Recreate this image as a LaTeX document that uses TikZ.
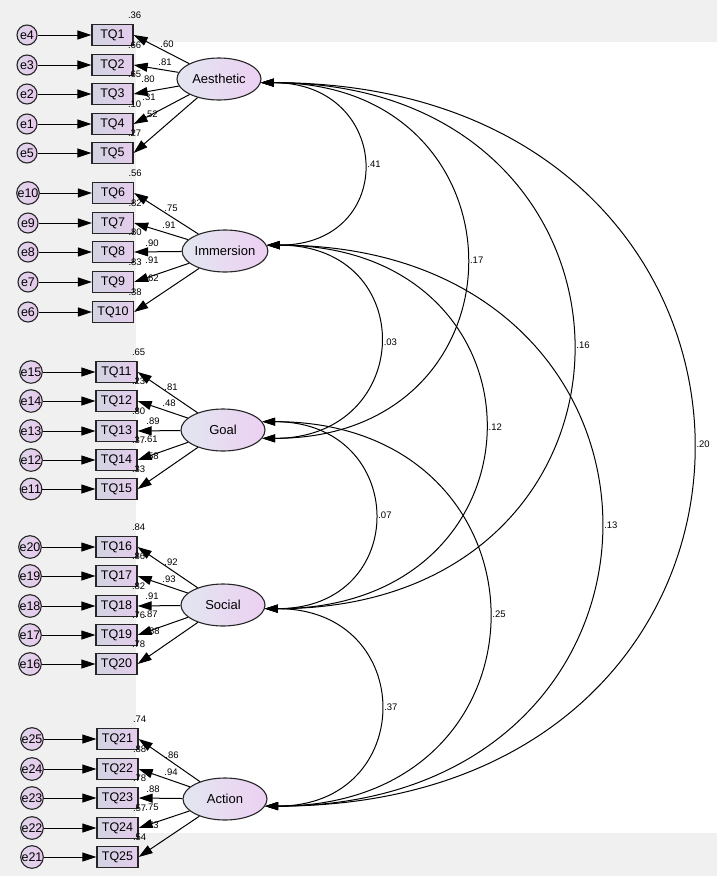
\documentclass[tikz,border=0pt]{standalone}
\usepackage{fontspec}
\setmainfont{Liberation Sans}
\usetikzlibrary{shapes.geometric,arrows.meta,calc}

\definecolor{bggray}{RGB}{240,240,240}
\definecolor{latleft}{RGB}{226,230,240}
\definecolor{latright}{RGB}{236,208,242}
\definecolor{obsleft}{RGB}{210,212,226}
\definecolor{obsright}{RGB}{228,204,236}
\definecolor{errleft}{RGB}{222,214,234}
\definecolor{errright}{RGB}{232,200,236}

\begin{document}
\begin{tikzpicture}[x=1pt, y=-1pt, >={Triangle[length=14pt,width=9pt]},
    latent/.style={ellipse, draw=black!85, line width=1.1pt, left color=latleft, right color=latright,
        minimum width=84pt, minimum height=42pt, inner sep=0pt, font=\fontsize{13}{15}\selectfont},
    obs/.style={rectangle, draw=black!85, line width=1.3pt, left color=obsleft, right color=obsright,
        minimum width=41pt, minimum height=21pt, inner sep=0pt, font=\fontsize{12.5}{14}\selectfont},
    err/.style={circle, draw=black!85, line width=1.1pt, left color=errleft, right color=errright,
        minimum size=20pt, inner sep=0pt, font=\fontsize{12.5}{14}\selectfont},
    coef/.style={inner sep=1pt, font=\fontsize{9.5}{11}\selectfont},
    load/.style={->, line width=1pt},
    cov/.style={<->, line width=1pt, >={Triangle[length=13pt,width=8pt]}}]

    \useasboundingbox (0,0) rectangle (717,876);
    \fill[bggray] (0,0) rectangle (717,876);
    \fill[white] (136,42) rectangle (717,833);

    % Aesthetic
    \node[latent] (aes) at (219,79) {Aesthetic};
    \foreach \r/\e/\q/\rsq/\lam/\lx/\ly in {35/4/1/.36/.60/167/44, 65/3/2/.66/.81/165/62,
        94/2/3/.65/.80/148/79, 124/1/4/.10/.31/149/97, 153/5/5/.27/.52/151/114}{
        \node[err] (e\e) at (27,\r) {e\e};
        \node[obs] (tq\q) at (112.5,\r) {TQ\q};
        \draw[load] (e\e) -- (tq\q);
        \draw[load] (aes) -- (tq\q.east);
        \node[coef] at ($(tq\q.north east)+(1,-9)$) {\rsq};
        \node[coef] at (\lx,\ly) {\lam};
    }

    % Immersion
    \node[latent] (imm) at (225,251) {Immersion};
    \foreach \r/\e/\q/\rsq/\lam/\lx/\ly in {193/10/6/.56/.75/171/208, 223/9/7/.82/.91/169/225,
        252/8/8/.80/.90/152/243, 282/7/9/.83/.91/152/260, 312/6/10/.38/.62/152/278}{
        \node[err] (e\e) at (28,\r) {e\e};
        \node[obs] (tq\q) at (113,\r) {TQ\q};
        \draw[load] (e\e) -- (tq\q);
        \draw[load] (imm) -- (tq\q.east);
        \node[coef] at ($(tq\q.north east)+(1,-9)$) {\rsq};
        \node[coef] at (\lx,\ly) {\lam};
    }

    % Goal
    \node[latent] (goal) at (223,430) {Goal};
    \foreach \r/\e/\q/\rsq/\lam/\lx/\ly in {372/15/11/.65/.81/171/387, 401/14/12/.23/.48/169/403,
        431/13/13/.80/.89/153/421, 460/12/14/.37/.61/151/439, 489/11/15/.33/.58/152/456}{
        \node[err] (e\e) at (31,\r) {e\e};
        \node[obs] (tq\q) at (116.5,\r) {TQ\q};
        \draw[load] (e\e) -- (tq\q);
        \draw[load] (goal) -- (tq\q.east);
        \node[coef] at ($(tq\q.north east)+(1,-9)$) {\rsq};
        \node[coef] at (\lx,\ly) {\lam};
    }

    % Social
    \node[latent] (soc) at (223,605) {Social};
    \foreach \r/\e/\q/\rsq/\lam/\lx/\ly in {547/20/16/.84/.92/171/562, 576/19/17/.86/.93/169/579,
        606/18/18/.82/.91/152/596, 635/17/19/.76/.87/151/614, 664/16/20/.78/.88/153/631}{
        \node[err] (e\e) at (30,\r) {e\e};
        \node[obs] (tq\q) at (116.5,\r) {TQ\q};
        \draw[load] (e\e) -- (tq\q);
        \draw[load] (soc) -- (tq\q.east);
        \node[coef] at ($(tq\q.north east)+(1,-9)$) {\rsq};
        \node[coef] at (\lx,\ly) {\lam};
    }

    % Action
    \node[latent] (act) at (225,799) {Action};
    \foreach \r/\e/\q/\rsq/\lam/\lx/\ly in {739/25/21/.74/.86/172/755, 769/24/22/.88/.94/171/772,
        798/23/23/.78/.88/153/789, 828/22/24/.57/.75/152/807, 857/21/25/.54/.73/152/825}{
        \node[err] (e\e) at (32,\r) {e\e};
        \node[obs] (tq\q) at (117.5,\r) {TQ\q};
        \draw[load] (e\e) -- (tq\q);
        \draw[load] (act) -- (tq\q.east);
        \node[coef] at ($(tq\q.north east)+(1,-9)$) {\rsq};
        \node[coef] at (\lx,\ly) {\lam};
    }

    % covariances
    \draw[cov] (aes.355) .. controls +(132,0) and +(132,0) .. (imm.8) node[coef, right=3pt, pos=0.5] {.41};
    \draw[cov] (aes.355) .. controls +(272,0) and +(272,0) .. (goal.348) node[coef, right=3pt, pos=0.5] {.17};
    \draw[cov] (aes.355) .. controls +(412,0) and +(412,0) .. (soc.355) node[coef, right=3pt, pos=0.5] {.16};
    \draw[cov] (aes.355) .. controls +(572,0) and +(572,0) .. (act.350) node[coef, right=3pt, pos=0.5] {.20};
    \draw[cov] (imm.8) .. controls +(153,0) and +(153,0) .. (goal.348) node[coef, right=3pt, pos=0.5] {.03};
    \draw[cov] (imm.8) .. controls +(291,0) and +(291,0) .. (soc.355) node[coef, right=3pt, pos=0.5] {.12};
    \draw[cov] (imm.8) .. controls +(445,0) and +(445,0) .. (act.350) node[coef, right=3pt, pos=0.5] {.13};
    \draw[cov] (goal.12) .. controls +(147,0) and +(147,0) .. (soc.355) node[coef, right=3pt, pos=0.5] {.07};
    \draw[cov] (goal.12) .. controls +(299,0) and +(299,0) .. (act.350) node[coef, right=3pt, pos=0.5] {.25};
    \draw[cov] (soc.355) .. controls +(153,0) and +(153,0) .. (act.350) node[coef, right=3pt, pos=0.5] {.37};
\end{tikzpicture}
\end{document}
